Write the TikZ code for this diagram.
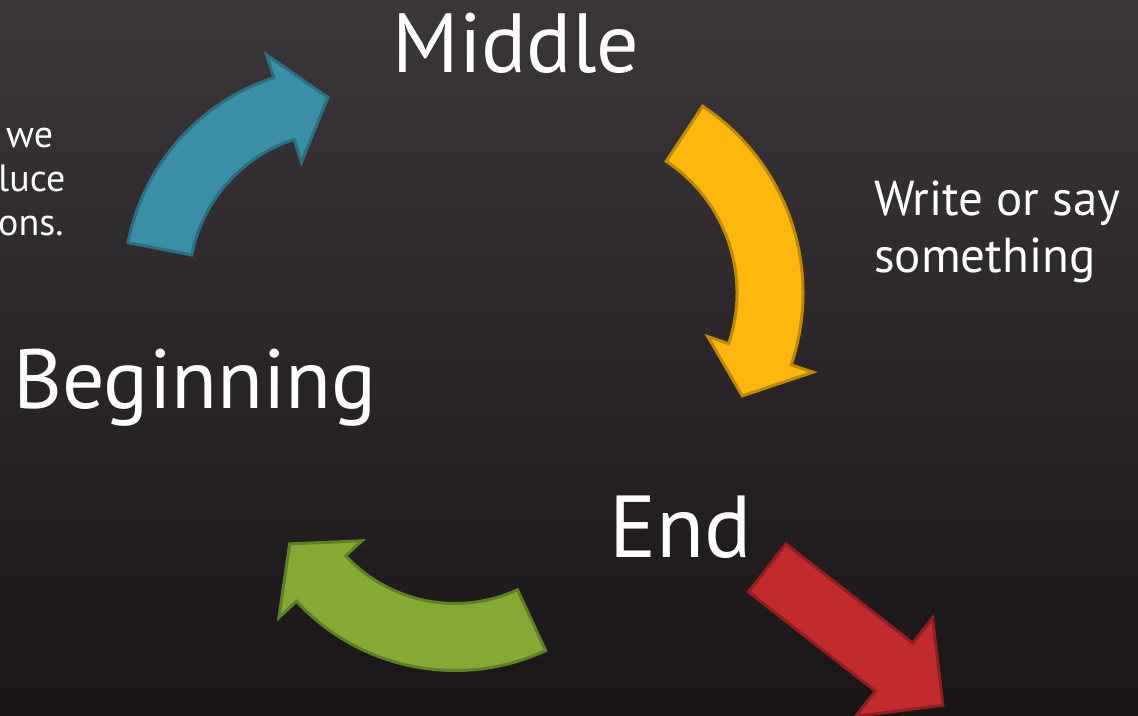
\documentclass[tikz,border=0pt]{standalone}
\usepackage{fontspec}
\setmainfont{PT Sans}
\usetikzlibrary{calc}
\definecolor{bgtop}{HTML}{3A363A}
\definecolor{bgmid}{HTML}{2B2729}
\definecolor{bgbot}{HTML}{1A1617}
\definecolor{tealfill}{HTML}{3A8FA6}
\definecolor{tealline}{HTML}{2B6F80}
\definecolor{yellowfill}{HTML}{FFB70D}
\definecolor{yellowline}{HTML}{BD8A07}
\definecolor{greenfill}{HTML}{84A935}
\definecolor{greenline}{HTML}{5E8126}
\definecolor{redfill}{HTML}{C12B2D}
\definecolor{redline}{HTML}{911E20}

\begin{document}
\begin{tikzpicture}[x=1pt,y=-1pt,every node/.style = {text=white, inner sep=0pt},
  bigword/.style = {anchor=base, font=\fontsize{84}{84}\selectfont},
  notetext/.style = {align=left, anchor=north west, font=\fontsize{49}{57}\selectfont},
  bendarrow/.style = {line width=3pt, line join=miter}]
\clip (0,0) rectangle (1138,715);
\shade[top color=bgtop, middle color=bgmid, bottom color=bgbot] (0,0) rectangle (1138,715);

% curved arrows round their own centres
\coordinate (tealc) at (341,284);
\draw[bendarrow, draw=tealline, fill=tealfill] ($(tealc)+(191:217)$) arc[start angle=191, end angle=252, radius=217]
  -- ($(tealc)+(252:241)$) -- ($(tealc)+(266:187)$) -- ($(tealc)+(252:128)$)
  -- ($(tealc)+(252:152)$) arc[start angle=252, end angle=191, radius=152] -- cycle;
\coordinate (yellowc) at (579,293);
\draw[bendarrow, draw=yellowline, fill=yellowfill] ($(yellowc)+(-56.5:224)$) arc[start angle=-56.5, end angle=18.7, radius=224]
  -- ($(yellowc)+(18.7:247)$) -- ($(yellowc)+(32.2:193)$) -- ($(yellowc)+(18.7:136)$)
  -- ($(yellowc)+(18.7:158)$) arc[start angle=18.7, end angle=-56.5, radius=158] -- cycle;
\coordinate (greenc) at (455,454.5);
\draw[bendarrow, draw=greenline, fill=greenfill] ($(greenc)+(65.2:216)$) arc[start angle=65.2, end angle=137.2, radius=216]
  -- ($(greenc)+(137.2:240)$) -- ($(greenc)+(151.6:188)$) -- ($(greenc)+(137.2:127)$)
  -- ($(greenc)+(137.2:149)$) arc[start angle=137.2, end angle=65.2, radius=149] -- cycle;
% straight arrow out of the loop
\draw[bendarrow, draw=redline, fill=redfill] (785.9,543.9) -- (912.8,643.1) -- (932.5,617.9) -- (942.9,705.3)
  -- (855.7,716.3) -- (875.4,691.1) -- (748.5,591.9) -- cycle;

\node[bigword] (middle) at (516,72) {Middle};
\node[bigword] (beginning) at (195,408) {Beginning};
\node[bigword, font=\fontsize{88}{88}\selectfont] (endword) at (680.5,557) {End};
\node[notetext] (saynote) at (874,181) {Write or say\\something};
\node[notetext, font=\fontsize{38}{44}\selectfont] (intronote) at (-2,128) {\hspace*{8pt}we\\luce\\ons.};
\end{tikzpicture}
\end{document}
